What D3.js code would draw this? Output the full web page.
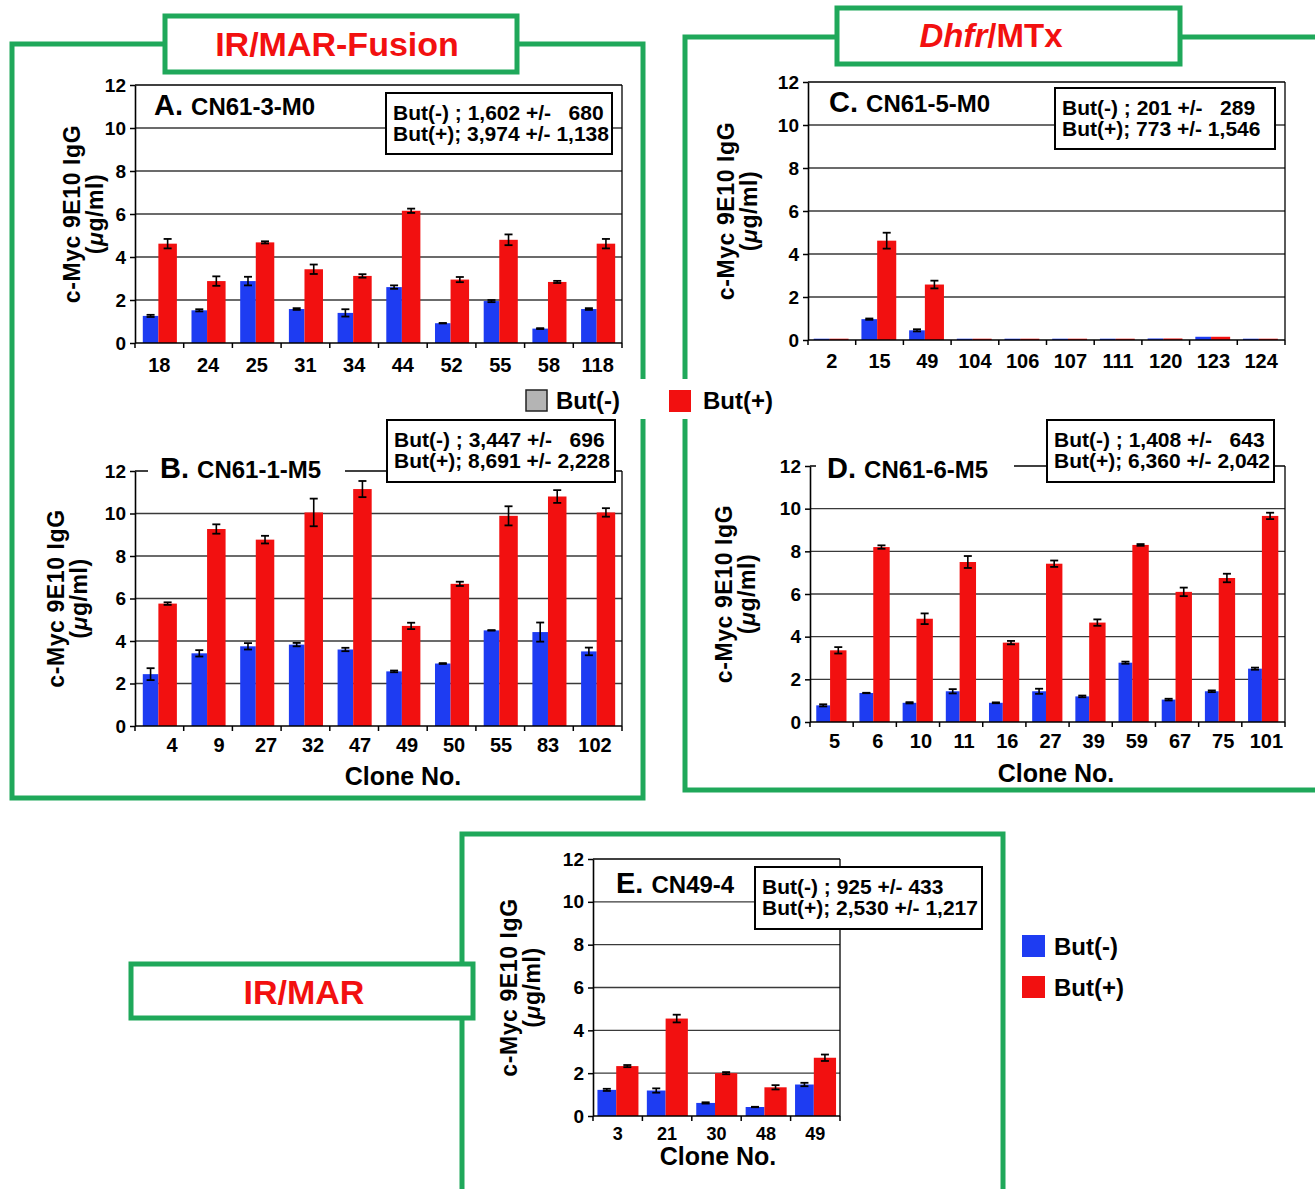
<!DOCTYPE html>
<html>
<head>
<meta charset="utf-8">
<script src="https://cdn.jsdelivr.net/npm/d3@7"></script>
<style>
  body { margin: 0; background: #fff; }
  svg text { font-family: "Liberation Sans", Arial, sans-serif; font-weight: bold; fill: #000; }
</style>
</head>
<body>
<div id="chart"></div>
<script>
// ---- data (ug/ml) ----
const yTicks = [0, 2, 4, 6, 8, 10, 12];

const clonesA = ["18", "24", "25", "31", "34", "44", "52", "55", "58", "118"];
const minusA = [1.26, 1.52, 2.88, 1.58, 1.40, 2.60, 0.92, 1.95, 0.67, 1.58];
const minusErrA = [0.05, 0.05, 0.20, 0.04, 0.17, 0.08, 0.01, 0.05, 0.02, 0.04];
const plusA = [4.62, 2.88, 4.68, 3.43, 3.12, 6.15, 2.95, 4.80, 2.84, 4.62];
const plusErrA = [0.22, 0.22, 0.05, 0.22, 0.08, 0.10, 0.12, 0.25, 0.05, 0.22];
const statsA = ["But(-) ; 1,602 +/-   680", "But(+); 3,974 +/- 1,138"];

const clonesB = ["4", "9", "27", "32", "47", "49", "50", "55", "83", "102"];
const minusB = [2.44, 3.42, 3.75, 3.83, 3.60, 2.57, 2.94, 4.50, 4.42, 3.51];
const minusErrB = [0.28, 0.15, 0.15, 0.08, 0.08, 0.04, 0.02, 0.01, 0.45, 0.18];
const plusB = [5.76, 9.27, 8.77, 10.05, 11.15, 4.71, 6.69, 9.89, 10.80, 10.05];
const plusErrB = [0.06, 0.22, 0.18, 0.65, 0.38, 0.15, 0.10, 0.45, 0.30, 0.20];
const statsB = ["But(-) ; 3,447 +/-   696", "But(+); 8,691 +/- 2,228"];

const clonesC = ["2", "15", "49", "104", "106", "107", "111", "120", "123", "124"];
const minusC = [0.06, 0.97, 0.45, 0.06, 0.06, 0.06, 0.06, 0.07, 0.15, 0.06];
const minusErrC = [0, 0.03, 0.05, 0, 0, 0, 0, 0, 0, 0];
const plusC = [0.06, 4.62, 2.58, 0.06, 0.06, 0.06, 0.06, 0.07, 0.15, 0.06];
const plusErrC = [0, 0.37, 0.18, 0, 0, 0, 0, 0, 0, 0];
const statsC = ["But(-) ; 201 +/-   289", "But(+); 773 +/- 1,546"];

const clonesD = ["5", "6", "10", "11", "16", "27", "39", "59", "67", "75", "101"];
const minusD = [0.78, 1.36, 0.90, 1.44, 0.90, 1.44, 1.20, 2.78, 1.05, 1.44, 2.50];
const minusErrD = [0.05, 0.01, 0.03, 0.10, 0.02, 0.12, 0.04, 0.05, 0.04, 0.04, 0.05];
const plusD = [3.36, 8.20, 4.84, 7.50, 3.72, 7.42, 4.66, 8.30, 6.10, 6.75, 9.66];
const plusErrD = [0.15, 0.08, 0.25, 0.28, 0.08, 0.15, 0.15, 0.04, 0.20, 0.20, 0.15];
const statsD = ["But(-) ; 1,408 +/-   643", "But(+); 6,360 +/- 2,042"];

const clonesE = ["3", "21", "30", "48", "49"];
const minusE = [1.22, 1.19, 0.61, 0.42, 1.47];
const minusErrE = [0.05, 0.10, 0.03, 0.01, 0.08];
const plusE = [2.33, 4.55, 2.00, 1.34, 2.72];
const plusErrE = [0.05, 0.18, 0.05, 0.10, 0.15];
const statsE = ["But(-) ; 925 +/- 433", "But(+); 2,530 +/- 1,217"];

const seriesNames = ["But(-)", "But(+)"];

// colours
const blue = "#1e3cf2";
const red = "#f21010";
const green = "#1fa85a";

const width = 1315, height = 1189;

const svg = d3.select("#chart")
  .append("svg")
  .attr("width", width)
  .attr("height", height);

svg.append("rect").attr("width", width).attr("height", height).attr("fill", "#fff");

// ---- green frames ----
function frame(x, y, w, h) {
  svg.append("rect")
    .attr("x", x).attr("y", y).attr("width", w).attr("height", h)
    .attr("fill", "none").attr("stroke", green).attr("stroke-width", 5);
}
function labelBox(x, y, w, h) {
  svg.append("rect")
    .attr("x", x).attr("y", y).attr("width", w).attr("height", h)
    .attr("fill", "#fff").attr("stroke", green).attr("stroke-width", 5);
}

frame(12, 44, 631, 754);
frame(685, 37, 660, 753);
frame(462, 834, 541, 400);

labelBox(165, 16, 352, 56);
labelBox(837, 8, 343, 56);
labelBox(131, 964, 342, 54);

svg.append("text").attr("x", 337).attr("y", 56)
  .attr("text-anchor", "middle").style("font-size", "34px").style("fill", red)
  .text("IR/MAR-Fusion");

const dh = svg.append("text").attr("x", 991).attr("y", 47)
  .attr("text-anchor", "middle").style("font-size", "33px").style("fill", red);
dh.append("tspan").style("font-style", "italic").style("fill", red).text("Dhfr");
dh.append("tspan").style("fill", red).text("/MTx");

svg.append("text").attr("x", 304).attr("y", 1004)
  .attr("text-anchor", "middle").style("font-size", "34px").style("fill", red)
  .text("IR/MAR");

// ---- one bar panel ----
function drawPanel(p) {
  const g = svg.append("g");

  const x = d3.scaleBand().domain(p.clones).range([p.x0, p.x1]);
  const y = d3.scaleLinear().domain([0, 12]).range([p.yBot, p.yTop]);
  const bw = x.bandwidth();

  // gridlines
  g.selectAll(".grid")
    .data(yTicks.filter(t => t > 0 && t < 12))
    .join("line")
    .attr("x1", p.x0).attr("x2", p.x1)
    .attr("y1", d => y(d)).attr("y2", d => y(d))
    .attr("stroke", "#3a3a3a").attr("stroke-width", 1.3);

  // plot frame (top + right)
  g.append("line").attr("x1", p.x0).attr("x2", p.x1)
    .attr("y1", y(12)).attr("y2", y(12))
    .attr("stroke", "#000").attr("stroke-width", 1.3);
  g.append("line").attr("x1", p.x1).attr("x2", p.x1)
    .attr("y1", y(12)).attr("y2", y(0))
    .attr("stroke", "#000").attr("stroke-width", 1.3);

  const rows = p.clones.map((c, i) => ({
    c, m: p.minus[i], me: p.minusErr[i], v: p.plus[i], ve: p.plusErr[i]
  }));

  // bars
  g.selectAll(".bm").data(rows).join("rect")
    .attr("x", d => x(d.c) + bw * p.off)
    .attr("width", bw * p.fb)
    .attr("y", d => y(d.m))
    .attr("height", d => y(0) - y(d.m))
    .attr("fill", blue);
  g.selectAll(".bp").data(rows).join("rect")
    .attr("x", d => x(d.c) + bw * (p.off + p.fb))
    .attr("width", bw * p.fr)
    .attr("y", d => y(d.v))
    .attr("height", d => y(0) - y(d.v))
    .attr("fill", red);

  // error bars
  const errs = [];
  rows.forEach(d => {
    if (d.me > 0) errs.push({ cx: x(d.c) + bw * (p.off + p.fb / 2), v: d.m, e: d.me });
    if (d.ve > 0) errs.push({ cx: x(d.c) + bw * (p.off + p.fb + p.fr / 2), v: d.v, e: d.ve });
  });
  const eg = g.selectAll(".err").data(errs).join("g");
  eg.append("line")
    .attr("x1", d => d.cx).attr("x2", d => d.cx)
    .attr("y1", d => y(d.v - d.e)).attr("y2", d => y(d.v + d.e))
    .attr("stroke", "#000").attr("stroke-width", 1.6);
  [-1, 1].forEach(s => {
    eg.append("line")
      .attr("x1", d => d.cx - 4).attr("x2", d => d.cx + 4)
      .attr("y1", d => y(d.v + s * d.e)).attr("y2", d => y(d.v + s * d.e))
      .attr("stroke", "#000").attr("stroke-width", 1.8);
  });

  // y axis
  const ya = g.append("g")
    .attr("transform", `translate(${p.x0},0)`)
    .call(d3.axisLeft(y).tickValues(yTicks).tickSize(5).tickSizeOuter(0).tickPadding(4));
  ya.select(".domain").attr("stroke", "#000").attr("stroke-width", 1.6);
  ya.selectAll(".tick line").attr("stroke", "#000").attr("stroke-width", 1.5);
  ya.selectAll(".tick text").style("font-size", p.yFont + "px").attr("font-family", null);

  // x axis: line + boundary ticks + labels
  g.append("line").attr("x1", p.x0).attr("x2", p.x1)
    .attr("y1", y(0)).attr("y2", y(0))
    .attr("stroke", "#000").attr("stroke-width", 1.6);
  g.selectAll(".bt").data(d3.range(p.clones.length + 1)).join("line")
    .attr("x1", i => p.x0 + i * bw).attr("x2", i => p.x0 + i * bw)
    .attr("y1", y(0)).attr("y2", y(0) + 5)
    .attr("stroke", "#000").attr("stroke-width", 1.5);

  const lx = p.labelRange
    ? d3.scalePoint().domain(p.clones).range(p.labelRange)
    : (c => x(c) + bw / 2 + (p.labelShift || 0));
  g.selectAll(".xl").data(p.clones).join("text")
    .attr("x", d => lx(d))
    .attr("y", p.tickBase)
    .attr("text-anchor", "middle")
    .style("font-size", p.xFont + "px")
    .text(d => d);

  // y title
  const yt = g.append("g")
    .attr("transform", `translate(0,${(y(0) + y(12)) / 2}) rotate(-90)`);
  yt.append("text").attr("x", 0).attr("y", p.yl1)
    .attr("text-anchor", "middle").style("font-size", "23px")
    .style("letter-spacing", "0.6px")
    .text("c-Myc 9E10 IgG");
  const t2 = yt.append("text").attr("x", 0).attr("y", p.yl2)
    .attr("text-anchor", "middle").style("font-size", "23px")
    .style("letter-spacing", "0.6px");
  t2.append("tspan").text("(");
  t2.append("tspan").style("font-style", "italic").text("\u03bc");
  t2.append("tspan").text("g/ml)");

  if (p.xTitle) {
    g.append("text").attr("x", p.xTitle[0]).attr("y", p.xTitle[1])
      .attr("text-anchor", "middle").style("font-size", p.xTitleFont + "px")
      .text("Clone No.");
  }

  // panel title
  if (p.titleGap) {
    g.append("rect").attr("x", p.titleGap[0]).attr("y", y(12) - 3)
      .attr("width", p.titleGap[1] - p.titleGap[0]).attr("height", 6)
      .attr("fill", "#fff");
  }
  const tt = g.append("text").attr("x", p.title[0]).attr("y", p.title[1]);
  tt.append("tspan").style("font-size", "29px").text(p.letter + " ");
  tt.append("tspan").style("font-size", "24px").text(p.name);

  // stats box
  const sb = p.statsBox;
  g.append("rect").attr("x", sb[0]).attr("y", sb[1]).attr("width", sb[2]).attr("height", sb[3])
    .attr("fill", "#fff").attr("stroke", "#000").attr("stroke-width", 2);
  g.selectAll(".st").data(p.stats).join("text")
    .attr("x", sb[0] + 7)
    .attr("y", (d, i) => sb[1] + 27 + i * 21)
    .style("font-size", "21px")
    .style("white-space", "pre")
    .attr("xml:space", "preserve")
    .text(d => d);
}

drawPanel({
  clones: clonesA, minus: minusA, minusErr: minusErrA, plus: plusA, plusErr: plusErrA, stats: statsA,
  x0: 135, x1: 622, yTop: 85, yBot: 343, off: 0.16, fb: 0.32, fr: 0.38,
  tickBase: 372, xFont: 20, yFont: 19, yl1: 80, yl2: 103,
  letter: "A.", name: "CN61-3-M0", title: [154, 115],
  statsBox: [386, 93, 226, 61]
});

drawPanel({
  clones: clonesB, minus: minusB, minusErr: minusErrB, plus: plusB, plusErr: plusErrB, stats: statsB,
  x0: 135, x1: 622, yTop: 471, yBot: 726, off: 0.16, fb: 0.32, fr: 0.38,
  tickBase: 752, xFont: 20, yFont: 19, yl1: 64, yl2: 87, labelRange: [172, 595],
  xTitle: [403, 785], xTitleFont: 25,
  letter: "B.", name: "CN61-1-M5", title: [160, 478], titleGap: [148, 345],
  statsBox: [387, 420, 228, 62]
});

drawPanel({
  clones: clonesC, minus: minusC, minusErr: minusErrC, plus: plusC, plusErr: plusErrC, stats: statsC,
  x0: 808, x1: 1285, yTop: 82, yBot: 340, off: 0.12, fb: 0.33, fr: 0.40,
  tickBase: 368, xFont: 20, yFont: 19, yl1: 734, yl2: 757,
  letter: "C.", name: "CN61-5-M0", title: [829, 112],
  statsBox: [1055, 88, 220, 61]
});

drawPanel({
  clones: clonesD, minus: minusD, minusErr: minusErrD, plus: plusD, plusErr: plusErrD, stats: statsD,
  x0: 810, x1: 1285, yTop: 466, yBot: 722, off: 0.145, fb: 0.32, fr: 0.38,
  tickBase: 748, xFont: 20, yFont: 19, yl1: 732, yl2: 755, labelShift: 3,
  xTitle: [1056, 782], xTitleFont: 25,
  letter: "D.", name: "CN61-6-M5", title: [827, 478], titleGap: [816, 1014],
  statsBox: [1047, 420, 227, 62]
});

drawPanel({
  clones: clonesE, minus: minusE, minusErr: minusErrE, plus: plusE, plusErr: plusErrE, stats: statsE,
  x0: 593, x1: 840, yTop: 859, yBot: 1116, off: 0.09, fb: 0.38, fr: 0.45,
  tickBase: 1140, xFont: 18, yFont: 19, yl1: 517, yl2: 540,
  xTitle: [718, 1165], xTitleFont: 25,
  letter: "E.", name: "CN49-4", title: [616, 893],
  statsBox: [755, 867, 227, 62]
});

// ---- centre legend (breaks the frames) ----
svg.append("rect").attr("x", 505).attr("y", 379).attr("width", 285).attr("height", 40).attr("fill", "#fff");
svg.append("rect").attr("x", 526).attr("y", 390).attr("width", 21).attr("height", 21)
  .attr("fill", "#b4b4b4").attr("stroke", "#222").attr("stroke-width", 1.5);
svg.append("text").attr("x", 556).attr("y", 409).style("font-size", "24px").text(seriesNames[0]);
svg.append("rect").attr("x", 669).attr("y", 390).attr("width", 22).attr("height", 22).attr("fill", red);
svg.append("text").attr("x", 703).attr("y", 409).style("font-size", "24px").text(seriesNames[1]);

// ---- bottom right legend ----
const leg = svg.append("g");
[blue, red].forEach((c, i) => {
  leg.append("rect").attr("x", 1022).attr("y", 935 + i * 41).attr("width", 23).attr("height", 22).attr("fill", c);
  leg.append("text").attr("x", 1054).attr("y", 955 + i * 41).style("font-size", "24px").text(seriesNames[i]);
});
</script>
</body>
</html>
